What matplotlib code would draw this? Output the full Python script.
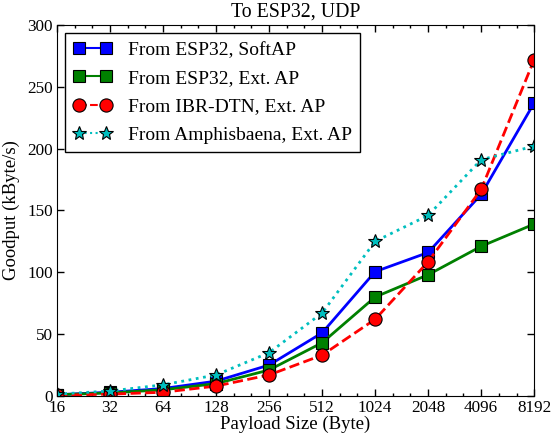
import numpy as np
import matplotlib.pyplot as plt
from matplotlib.ticker import FixedLocator, NullFormatter

plt.rcParams['font.family'] = ['Liberation Serif', 'DejaVu Serif']
plt.rcParams['mathtext.fontset'] = 'stix'

payload = [16, 32, 64, 128, 256, 512, 1024, 2048, 4096, 8192]
esp_softap = [1, 3, 6, 12, 25, 51, 100.5, 116, 163, 237]
esp_ext = [1, 2.5, 5, 10, 21, 43, 80, 98, 121, 139]
ibr_ext = [0.5, 1.5, 3, 8, 17, 33, 62, 108.5, 167, 272]
amph_ext = [1.5, 4, 9, 17, 35, 67, 125, 146, 191, 202]

fig = plt.figure(figsize=(5.53, 4.33), dpi=100)
ax = fig.add_axes([0.103, 0.0855, 0.863, 0.857])

ax.plot(payload, esp_softap, '-s', color='b', lw=2, ms=9, mec='k', mew=0.8,
        label='From ESP32, SoftAP')
ax.plot(payload, esp_ext, '-s', color='g', lw=2, ms=9, mec='k', mew=0.8,
        label='From ESP32, Ext. AP')
ax.plot(payload, ibr_ext, '--o', color='r', lw=2, ms=9.5, mec='k', mew=0.8,
        label='From IBR-DTN, Ext. AP')
ax.plot(payload, amph_ext, ':*', color='c', lw=2, ms=10, mec='k', mew=0.8,
        label='From Amphisbaena, Ext. AP')

ax.set_xscale('log', base=2)
ax.set_xlim(16, 8192)
ax.set_ylim(0, 300)
ax.set_xticks(payload)
ax.set_xticklabels([str(p) for p in payload])
minors = [2 ** (k + f) for k in range(4, 13) for f in (1 / 3, 2 / 3)]
ax.xaxis.set_minor_locator(FixedLocator(minors))
ax.xaxis.set_minor_formatter(NullFormatter())
ax.set_yticks(np.arange(0, 301, 50))

ax.tick_params(which='both', direction='in', top=True, right=True,
               labelsize=12.3, width=1)
ax.tick_params(which='major', length=5, pad=3)
ax.tick_params(which='minor', length=2.5)

ax.set_xlabel('Payload Size (Byte)', fontsize=13.5, labelpad=0)
ax.set_ylabel('Goodput (kByte/s)', fontsize=13.5, labelpad=5)
ax.set_title('To ESP32, UDP', fontsize=14.3, pad=6)

leg = ax.legend(loc='upper left', fontsize=14, fancybox=False,
                edgecolor='k', framealpha=1, numpoints=2,
                handlelength=2.0, borderpad=0.44, labelspacing=0.55,
                borderaxespad=0.4, handletextpad=0.8)
leg.get_frame().set_linewidth(1)
for h in leg.get_lines():
    h.set_linewidth(1.5)

fig.savefig('out.png', dpi=100)
